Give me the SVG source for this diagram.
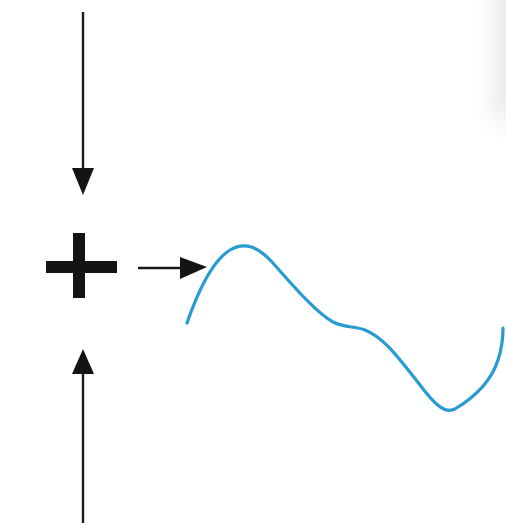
<svg xmlns="http://www.w3.org/2000/svg" width="506" height="523" viewBox="0 0 506 523">
  <style>
    .conn { stroke: #1a1a1a; stroke-width: 2.4; fill: none; }
    .plus { fill: #141414; }
    .wave { stroke: #2a9bd0; stroke-width: 3.2; fill: none; stroke-linecap: round; stroke-linejoin: round; }
  </style>
  <defs>
    <linearGradient id="shade" x1="0" y1="0" x2="1" y2="0">
      <stop offset="0" stop-color="#ffffff" stop-opacity="0"/>
      <stop offset="0.75" stop-color="#f0f0f0"/>
      <stop offset="1" stop-color="#ececec"/>
    </linearGradient>
    <linearGradient id="fadeV" x1="0" y1="0" x2="0" y2="1">
      <stop offset="0" stop-color="#ffffff"/>
      <stop offset="0.7" stop-color="#ffffff"/>
      <stop offset="1" stop-color="#000000"/>
    </linearGradient>
    <mask id="fadeMask">
      <rect x="460" y="0" width="46" height="140" fill="url(#fadeV)"/>
    </mask>
  </defs>
  <rect width="506" height="523" fill="#ffffff"/>
  <rect id="shading" x="470" y="0" width="36" height="140" fill="url(#shade)" mask="url(#fadeMask)"/>
  <g id="connectors">
    <line class="conn" x1="83" y1="12" x2="83" y2="170"/>
    <path d="M72,168 L94,168 L83,195 Z" fill="#141414"/>
    <line class="conn" x1="83" y1="523" x2="83" y2="373"/>
    <path d="M72,374 L94,374 L83,349 Z" fill="#141414"/>
    <line class="conn" x1="138" y1="268" x2="182" y2="268"/>
    <path d="M180,257 L207,267 L180,279 Z" fill="#141414"/>
  </g>
  <g id="sum">
    <rect class="plus" x="46" y="261" width="71" height="12"/>
    <rect class="plus" x="73" y="233" width="12" height="65"/>
  </g>
  <g id="wave">
    <path class="wave" d="M187,323 C195,300 210,262 230,250 C245,241 258,247 272,262 C290,282 315,312 333,322 C345,328 355,326 365,330 C385,338 400,360 420,385 C435,405 445,414 455,409 C470,400 490,385 498,360 C502,348 503,338 503,328"/>
  </g>
</svg>
